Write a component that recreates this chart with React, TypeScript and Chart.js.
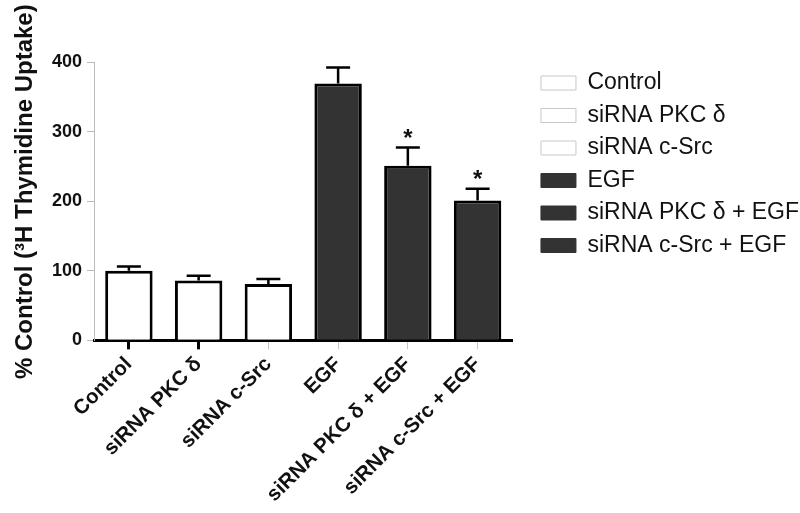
import React, { useEffect, useRef } from "react";
import { Chart, registerables } from "chart.js";
Chart.register(...registerables);

const categories = ["Control", "siRNA PKC δ", "siRNA c-Src", "EGF", "siRNA PKC δ + EGF", "siRNA c-Src + EGF"];
const means = [100, 86, 81, 369, 251, 201];
const errors = [6, 7, 7, 23, 26, 17];
const significance = ["", "", "", "", "*", "*"];
const fillColors = ["#ffffff", "#ffffff", "#ffffff", "#333333", "#333333", "#333333"];
const legendStroke = ["#c8c8c8", "#c8c8c8", "#c8c8c8", "#333333", "#333333", "#333333"];
const yMin = 0;
const yMax = 400;
const yStep = 100;
const yTitle = "% Control (³H Thymidine Uptake)";

const FONT = "Arial, 'Liberation Sans', Helvetica, sans-serif";

const errorPlugin = {
  id: "errorBars",
  afterDatasetsDraw(chart: any) {
    const meta = chart.getDatasetMeta(0);
    const yScale = chart.scales.y;
    const ctx = chart.ctx;
    ctx.save();
    meta.data.forEach((bar: any, i: number) => {
      const x = bar.x;
      const yTop = yScale.getPixelForValue(means[i] + errors[i]);
      ctx.strokeStyle = "#000";
      ctx.lineWidth = 2.5;
      ctx.beginPath();
      ctx.moveTo(x, bar.y);
      ctx.lineTo(x, yTop);
      ctx.moveTo(x - 12, yTop);
      ctx.lineTo(x + 12, yTop);
      ctx.stroke();
      if (significance[i]) {
        ctx.fillStyle = "#111";
        ctx.font = `bold 24px ${FONT}`;
        ctx.textAlign = "center";
        ctx.textBaseline = "middle";
        ctx.fillText(significance[i], x, yTop - 8);
      }
    });
    ctx.restore();
  },
};

// y-axis title drawn rotated, slightly above the plot's vertical centre as in the source
const yTitlePlugin = {
  id: "yTitle",
  afterDraw(chart: any) {
    const { ctx, chartArea } = chart;
    ctx.save();
    ctx.translate(25, (chartArea.top + chartArea.bottom) / 2 - 9.5);
    ctx.rotate(-Math.PI / 2);
    ctx.fillStyle = "#111";
    ctx.font = `bold 24px ${FONT}`;
    ctx.textAlign = "center";
    ctx.textBaseline = "middle";
    ctx.fillText(yTitle, 0, 0);
    ctx.restore();
  },
};

// nudge the legend block to the right, leaving a gap after the plot
const legendShift = {
  id: "legendShift",
  afterLayout(chart: any) {
    const lg = chart.legend;
    if (lg) {
      lg.left += 19;
      lg.right += 19;
    }
  },
};

export default function App() {
  const ref = useRef<HTMLCanvasElement | null>(null);
  useEffect(() => {
    if (!ref.current) return;
    const chart = new Chart(ref.current, {
      type: "bar",
      data: {
        labels: categories,
        datasets: [
          {
            data: means,
            backgroundColor: fillColors,
            borderColor: "#000",
            borderWidth: 3,
            categoryPercentage: 0.85,
            barPercentage: 0.8,
          },
        ],
      },
      options: {
        animation: false,
        responsive: true,
        maintainAspectRatio: false,
        layout: { padding: { left: 47, top: 62, right: 10, bottom: 3 } },
        plugins: {
          tooltip: { enabled: false },
          legend: {
            position: "right",
            align: "start",
            maxWidth: 320,
            onClick: () => {},
            labels: {
              boxWidth: 35,
              boxHeight: 14,
              padding: 9.5,
              color: "#111",
              font: { family: FONT, size: 23 },
              generateLabels: () =>
                categories.map((c, i) => ({
                  text: c,
                  fillStyle: fillColors[i],
                  strokeStyle: legendStroke[i],
                  lineWidth: 1,
                  hidden: false,
                  datasetIndex: 0,
                  index: i,
                  fontColor: "#111",
                })),
            },
          },
        },
        scales: {
          x: {
            offset: true,
            grid: {
              offset: false,
              drawOnChartArea: false,
              drawTicks: true,
              tickLength: 9,
              tickColor: (c: any) => (c.index < 2 ? "#000" : "#c8c8c8"),
              tickWidth: (c: any) => (c.index < 2 ? 3 : 1),
            },
            border: { display: true, color: "#000", width: 3 },
            ticks: {
              minRotation: 45,
              maxRotation: 45,
              color: "#111",
              padding: 3,
              font: { family: FONT, size: 20.5, weight: "bold" },
            },
          },
          y: {
            min: yMin,
            max: yMax,
            grid: {
              drawOnChartArea: false,
              drawTicks: true,
              tickLength: 7,
              color: "#bbb",
            },
            border: { display: true, color: "#bbb", width: 1 },
            ticks: {
              stepSize: yStep,
              color: "#111",
              padding: 5,
              font: { family: FONT, size: 18, weight: "bold" },
            },
          },
        },
      },
      plugins: [errorPlugin, yTitlePlugin, legendShift],
    } as any);
    return () => chart.destroy();
  }, []);
  return (
    <div style={{ position: "absolute", left: 0, top: 0, width: 800, height: 513, background: "#fff" }}>
      <canvas ref={ref} />
    </div>
  );
}
